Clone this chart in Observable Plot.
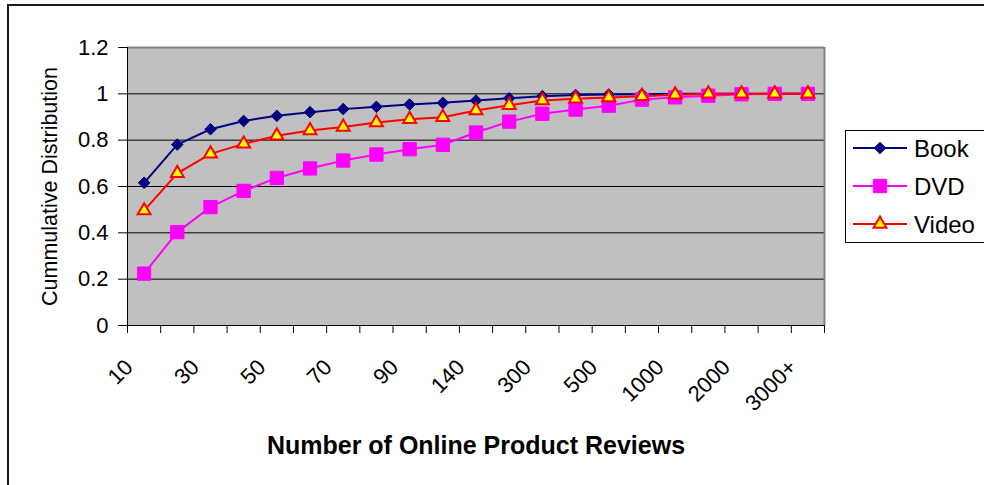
<!DOCTYPE html>
<html>
<head>
<meta charset="utf-8">
<script src="https://cdn.jsdelivr.net/npm/d3@7"></script>
<script src="https://cdn.jsdelivr.net/npm/@observablehq/plot@0.6"></script>
<style>
  html, body { margin: 0; padding: 0; background: #fff; }
  body { width: 984px; height: 485px; overflow: hidden; position: relative; font-family: "Liberation Sans", Arial, sans-serif; }
  #chart { position: absolute; left: 0; top: 0; }
  #outer { position: absolute; left: 7px; top: 4px; width: 2000px; height: 2000px; border-left: 2px solid #1a1a1a; border-top: 2px solid #1a1a1a; pointer-events: none; }
  #legend { position: absolute; left: 845px; top: 130px; }
</style>
</head>
<body>
<div id="chart"></div>
<div id="outer"></div>
<div id="legend"></div>
<script>
// ---- data ----
const categories = ["10","20","30","40","50","60","70","80","90","100","140","200","300","400","500","750","1000","1500","2000","2500","3000+"];
const shownLabels = ["10","30","50","70","90","140","300","500","1000","2000","3000+"];
const book  = [0.616, 0.781, 0.847, 0.883, 0.905, 0.921, 0.934, 0.944, 0.954, 0.961, 0.971, 0.981, 0.990, 0.995, 0.997, 0.998, 1.0, 1.0, 1.0, 1.0, 1.0];
const dvd   = [0.224, 0.403, 0.511, 0.581, 0.637, 0.678, 0.712, 0.738, 0.761, 0.780, 0.833, 0.880, 0.914, 0.932, 0.949, 0.975, 0.985, 0.992, 0.998, 1.0, 1.0];
const video = [0.496, 0.657, 0.741, 0.784, 0.819, 0.842, 0.857, 0.876, 0.890, 0.899, 0.928, 0.951, 0.971, 0.979, 0.984, 0.990, 0.996, 1.0, 1.0, 1.0, 1.0];
const seriesNames = ["Book", "DVD", "Video"];
const yTicks = [0, 0.2, 0.4, 0.6, 0.8, 1.0, 1.2];
const xTitle = "Number of Online Product Reviews";
const yTitle = "Cummulative Distribution";

// ---- styles ----
const styles = {
  Book:  {symbol: "diamond2", r: 5.2, fill: "#000080", stroke: "#000080", strokeWidth: 1, line: "#000080"},
  DVD:   {symbol: "square",   r: 7.5, fill: "#ff00ff", stroke: "#ff00ff", strokeWidth: 1, line: "#ff00ff"},
  Video: {symbol: "triangle", r: 4.8, fill: "#ffff00", stroke: "#ff0000", strokeWidth: 2, line: "#ff0000"}
};

const valuesBy = {Book: book, DVD: dvd, Video: video};
const rows = seriesNames.map(s => categories.map((c, i) => ({s, i, c, v: valuesBy[s][i]})));
const idx = categories.map((c, i) => i);
const boundaries = categories.map((c, i) => i - 0.5).concat([categories.length - 0.5]);
const labelRows = idx.filter(i => shownLabels.includes(categories[i]));
const xMin = -0.5, xMax = categories.length - 0.5;
const yMax = yTicks[yTicks.length - 1];

const seriesMarks = [];
seriesNames.forEach((s, k) => {
  const st = styles[s];
  seriesMarks.push(Plot.line(rows[k], {x: "i", y: "v", stroke: st.line, strokeWidth: 2}));
});
seriesNames.forEach((s, k) => {
  const st = styles[s];
  seriesMarks.push(Plot.dot(rows[k], {x: "i", y: "v", symbol: () => st.symbol, r: st.r, fill: st.fill, stroke: st.stroke, strokeWidth: st.strokeWidth}));
});

const chart = Plot.plot({
  width: 984,
  height: 485,
  marginLeft: 127,
  marginRight: 160,
  marginTop: 47,
  marginBottom: 160,
  style: {fontFamily: "'Liberation Sans', Arial, sans-serif", fontSize: "22px", background: "transparent", color: "#000"},
  x: {type: "linear", domain: [xMin, xMax]},
  y: {type: "linear", domain: [0, yMax]},
  symbol: {type: "identity"},
  marks: [
    Plot.frame({fill: "#c0c0c0", stroke: null}),
    Plot.ruleY(yTicks.filter(v => v > 0 && v < yMax), {stroke: "#000", strokeWidth: 1}),
    Plot.ruleY([yMax], {stroke: "#808080", strokeWidth: 2}),
    Plot.ruleX([xMax], {stroke: "#808080", strokeWidth: 2}),
    Plot.ruleX([xMin], {stroke: "#000", strokeWidth: 1}),
    Plot.ruleY([0], {stroke: "#000", strokeWidth: 1}),
    Plot.axisY(yTicks, {tickSize: 9, tickPadding: 10, fontSize: 22, tickFormat: d => String(+d.toFixed(1)), label: null, stroke: "#000"}),
    Plot.axisX(boundaries, {tickSize: 8, tickFormat: () => "", label: null, stroke: "#000"}),
    Plot.text(labelRows, {x: d => d, frameAnchor: "bottom", text: d => categories[d], rotate: -45, textAnchor: "end", lineAnchor: "bottom", dx: -10, dy: 43, fontSize: 22, fill: "#000"}),
    Plot.text([xTitle], {frameAnchor: "bottom", text: d => d, dy: 128, lineAnchor: "bottom", fontSize: 25, fontWeight: "bold", fill: "#000"}),
    Plot.text([yTitle], {frameAnchor: "left", text: d => d, rotate: -90, textAnchor: "middle", dx: -77, fontSize: 21.5, fill: "#000"}),
    ...seriesMarks
  ]
});
document.getElementById("chart").appendChild(chart);

// ---- legend ----
const lw = 160, lh = 113;
const svg = d3.select("#legend").append("svg").attr("width", lw).attr("height", lh)
  .style("font-family", "'Liberation Sans', Arial, sans-serif").style("overflow", "visible");
svg.append("rect").attr("x", 0.5).attr("y", 0.5).attr("width", lw).attr("height", lh - 1)
  .attr("fill", "#fff").attr("stroke", "#000").attr("stroke-width", 1);
const symMap = {diamond2: d3.symbolDiamond2, square: d3.symbolSquare, triangle: d3.symbolTriangle};
seriesNames.forEach((s, k) => {
  const st = styles[s];
  const cy = 18 + k * 38;
  const g = svg.append("g");
  g.append("line").attr("x1", 8).attr("x2", 62).attr("y1", cy).attr("y2", cy).attr("stroke", st.line).attr("stroke-width", 2);
  g.append("path").attr("d", d3.symbol(symMap[st.symbol], Math.PI * st.r * st.r)())
    .attr("transform", `translate(35,${cy})`).attr("fill", st.fill).attr("stroke", st.stroke).attr("stroke-width", st.strokeWidth);
  g.append("text").attr("x", 69).attr("y", cy + 9).attr("font-size", 24).attr("fill", "#000").text(s);
});
</script>
</body>
</html>
